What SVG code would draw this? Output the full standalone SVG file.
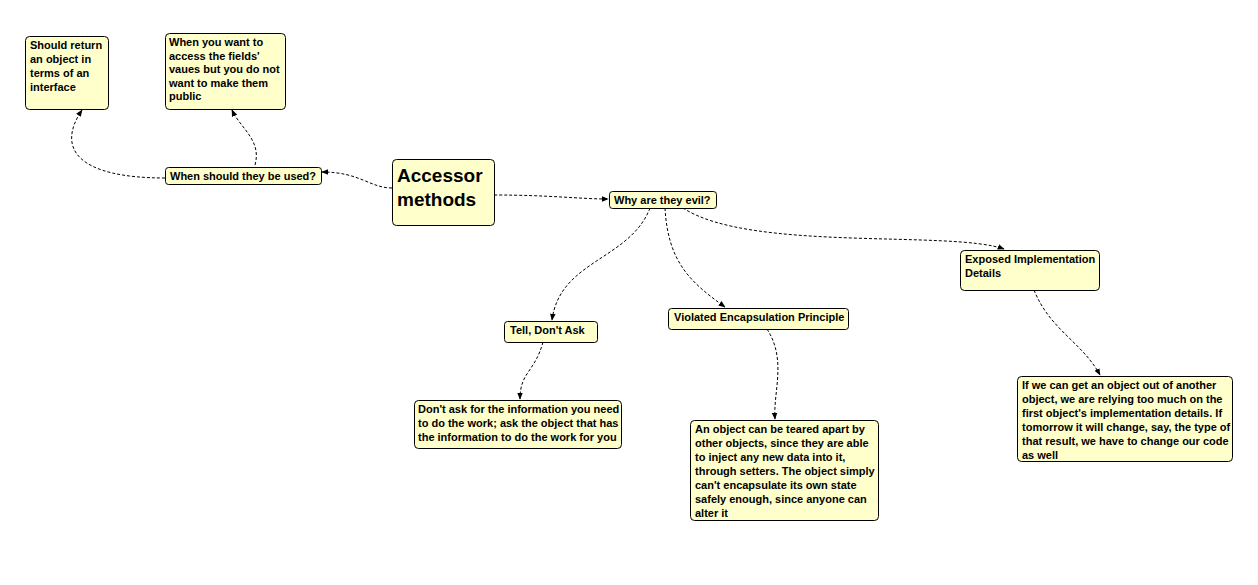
<svg xmlns="http://www.w3.org/2000/svg" width="1258" height="585" viewBox="0 0 1258 585">
<defs>
<style>
.n rect{fill:#ffffcc;stroke:#000;stroke-width:1}
.n text{font-family:"Liberation Sans",Arial,sans-serif;font-weight:bold;font-size:11px;fill:#000}
.big text{font-size:19px}
.c path{fill:none;stroke:#000;stroke-width:1;stroke-dasharray:3,2;marker-end:url(#ah)}
</style>
<marker id="ah" viewBox="0 0 10 10" refX="9" refY="5" markerWidth="7" markerHeight="7" markerUnits="userSpaceOnUse" orient="auto">
<path d="M0,1 L10,5 L0,9 Z" fill="#000"/>
</marker>
</defs>
<rect width="1258" height="585" fill="#fff"/>
<g id="connectors" class="c">
<path d="M392,188 C370,188 360,172 322,172"/>
<path d="M165,178 C80,178 55,150 82,110"/>
<path d="M255,165 C262,140 240,128 232,110"/>
<path d="M494,195 C550,195 580,199 608,199"/>
<path d="M650,208 C630,260 560,260 552,320"/>
<path d="M665,208 C668,262 690,282 725,307"/>
<path d="M683,208 C750,252 950,230 1004,249"/>
<path d="M543,342 C535,372 520,372 520,399"/>
<path d="M767,329 C787,360 773,392 775,419"/>
<path d="M1034,290 C1050,330 1082,342 1100,375"/>
</g>
<g id="n-should-return" class="n">
<rect x="25.5" y="36.5" width="83" height="73" rx="4"/>
<text x="30" y="49">Should return</text><text x="30" y="63">an object in</text><text x="30" y="77">terms of an</text><text x="30" y="91">interface</text>
</g>
<g id="n-when-want" class="n">
<rect x="165.5" y="33.5" width="120" height="76" rx="4"/>
<text x="169" y="46">When you want to</text><text x="169" y="60">access the fields'</text><text x="169" y="73">vaues but you do not</text><text x="169" y="87">want to make them</text><text x="169" y="100">public</text>
</g>
<g id="n-when-used" class="n">
<rect x="165.5" y="167.5" width="156" height="17" rx="3"/>
<text x="170" y="180">When should they be used?</text>
</g>
<g id="n-accessor" class="n big">
<rect x="392.5" y="159.5" width="102" height="66" rx="4"/>
<text x="397" y="182">Accessor</text><text x="397" y="206">methods</text>
</g>
<g id="n-why-evil" class="n">
<rect x="609.5" y="191.5" width="107" height="17" rx="3"/>
<text x="614" y="204">Why are they evil?</text>
</g>
<g id="n-exposed" class="n">
<rect x="960.5" y="250.5" width="139" height="40" rx="4"/>
<text x="965" y="263">Exposed Implementation</text><text x="965" y="277">Details</text>
</g>
<g id="n-tell" class="n">
<rect x="504.5" y="321.5" width="93" height="21" rx="3"/>
<text x="510" y="334">Tell, Don't Ask</text>
</g>
<g id="n-violated" class="n">
<rect x="668.5" y="308.5" width="180" height="21" rx="3"/>
<text x="674" y="321">Violated Encapsulation Principle</text>
</g>
<g id="n-dont-ask" class="n">
<rect x="414.5" y="400.5" width="207" height="48" rx="4"/>
<text x="418" y="413">Don't ask for the information you need</text><text x="418" y="427">to do the work; ask the object that has</text><text x="418" y="441">the information to do the work for you</text>
</g>
<g id="n-torn" class="n">
<rect x="690.5" y="420.5" width="188" height="100" rx="4"/>
<text x="695" y="433">An object can be teared apart by</text><text x="695" y="447">other objects, since they are able</text><text x="695" y="461">to inject any new data into it,</text><text x="695" y="475">through setters. The object simply</text><text x="695" y="489">can't encapsulate its own state</text><text x="695" y="503">safely enough, since anyone can</text><text x="695" y="517">alter it</text>
</g>
<g id="n-if-we" class="n">
<rect x="1017.5" y="376.5" width="215" height="85" rx="4"/>
<text x="1022" y="389">If we can get an object out of another</text><text x="1022" y="403">object, we are relying too much on the</text><text x="1022" y="417">first object's implementation details. If</text><text x="1022" y="431">tomorrow it will change, say, the type of</text><text x="1022" y="445">that result, we have to change our code</text><text x="1022" y="459">as well</text>
</g>
</svg>
